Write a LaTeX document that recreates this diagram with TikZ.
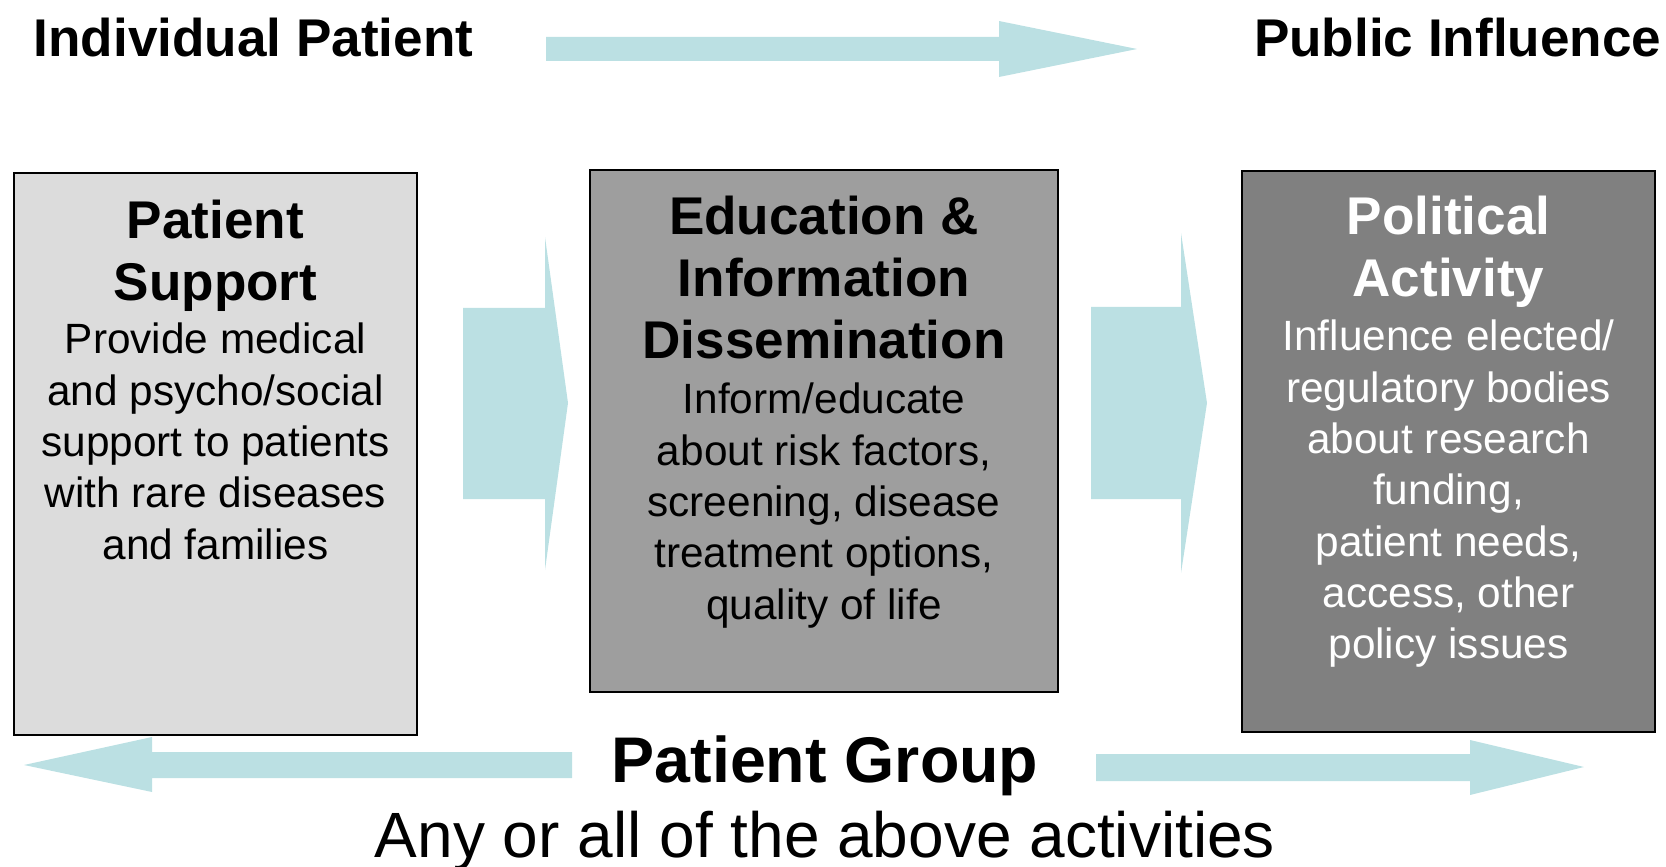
\documentclass[tikz,border=0pt]{standalone}
\usepackage{fontspec}
\setmainfont{Liberation Sans}
\usetikzlibrary{positioning}

\definecolor{arrowteal}{RGB}{187,224,227}
\definecolor{lightpanel}{RGB}{220,220,220}
\definecolor{midpanel}{RGB}{158,158,158}
\definecolor{darkpanel}{RGB}{128,128,128}

\tikzset{
	panel/.style={draw=black, line width=0.5pt},
	blockarrow/.style={fill=arrowteal},
	boxtitle/.style={anchor=north, align=center, inner sep=0pt, font=\fontsize{15.1}{17.64}\selectfont\bfseries},
	boxbody/.style={anchor=north, align=center, inner sep=0pt, font=\fontsize{12.04}{14.6}\selectfont},
	headline/.style={inner sep=0pt, font=\fontsize{15.1}{18}\selectfont\bfseries},
}

\begin{document}
\begin{tikzpicture}[x=0.01cm,y=-0.01cm]
	\useasboundingbox (0,0) rectangle (1666,867);

	% top scale
	\fill[blockarrow] (546,37)--(999,37)--(999,21)--(1137,49)--(999,77)--(999,61)--(546,61)--cycle;
	\node (indiv) [headline, anchor=base west] at (33,57) {Individual Patient};
	\node (public) [headline, anchor=base east] at (1662,57) {Public Influence};

	% boxes
	\draw[panel, fill=lightpanel] (14,173) rectangle (417,735);
	\draw[panel, fill=midpanel] (590,170) rectangle (1058,692);
	\draw[panel, fill=darkpanel] (1242,171) rectangle (1655,732);

	% box texts
	\node (supporttitle) [boxtitle] at (215.5,199) {Patient\\Support};
	\node (supportbody) [boxbody] at (215.5,322.5) {Provide medical\\and psycho/social\\support to patients\\with rare diseases\\and families};

	\node (edutitle) [boxtitle] at (824,195) {Education \&\\Information\\Dissemination};
	\node (edubody) [boxbody] at (824,382.5) {Inform/educate\\about risk factors,\\screening, disease\\treatment options,\\quality of life};

	\node (poltitle) [boxtitle, text=white] at (1448.5,195) {Political\\Activity};
	\node (polbody) [boxbody, text=white] at (1448.5,319.5) {Influence elected/\\regulatory bodies\\about research\\funding,\\patient needs,\\access, other\\policy issues};

	% arrows between boxes
	\fill[blockarrow] (463,308)--(545,308)--(545,237)--(568,403)--(545,570)--(545,499)--(463,499)--cycle;
	\fill[blockarrow] (1091,307)--(1181,307)--(1181,233)--(1207,403)--(1181,573)--(1181,499)--(1091,499)--cycle;

	% bottom arrows
	\fill[blockarrow] (572,752)--(152,752)--(152,737)--(24,765)--(152,792)--(152,778)--(572,778)--cycle;
	\fill[blockarrow] (1096,754)--(1470,754)--(1470,740)--(1584,767)--(1470,795)--(1470,781)--(1096,781)--cycle;

	% patient group
	\node (group) [anchor=base, inner sep=0pt, font=\fontsize{18.35}{22}\selectfont\bfseries] at (825,782) {Patient Group};
	\node (any) [anchor=base, inner sep=0pt, font=\fontsize{18.2}{22}\selectfont] at (825,857) {Any or all of the above activities};

\end{tikzpicture}
\end{document}
